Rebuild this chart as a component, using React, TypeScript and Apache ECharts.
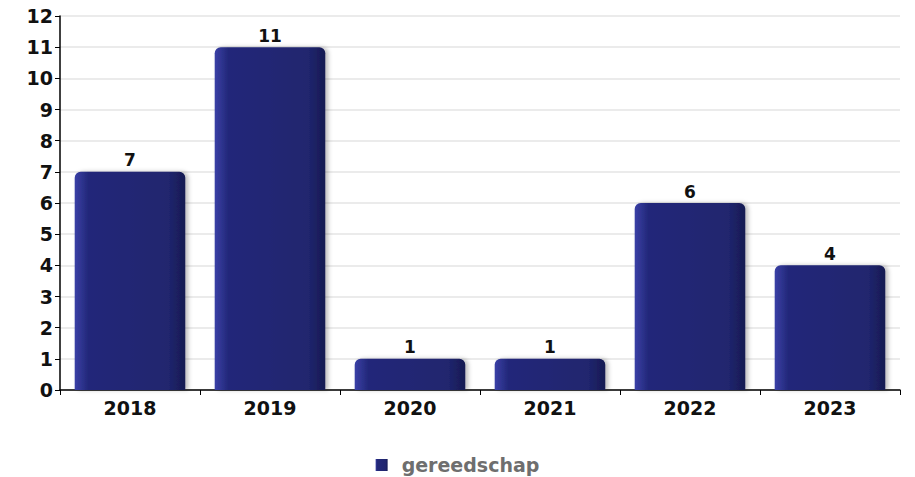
import React, { useEffect, useRef } from "react";
import * as echarts from "echarts";

const categories = ["2018", "2019", "2020", "2021", "2022", "2023"];
const values = [7, 11, 1, 1, 6, 4];
const seriesName = "gereedschap";

export default function App() {
  const ref = useRef<HTMLDivElement>(null);
  useEffect(() => {
    const chart = echarts.init(ref.current!, null, { renderer: "svg" });
    const font = "DejaVu Sans";
    chart.setOption({
      animation: false,
      backgroundColor: "#ffffff",
      grid: { left: 60, right: 15, top: 16, bottom: 87, containLabel: false },
      legend: {
        top: 454,
        left: "center",
        icon: "rect",
        itemWidth: 12,
        itemHeight: 12,
        itemGap: 10,
        padding: 0,
        textStyle: {
          fontFamily: font,
          fontWeight: "bold",
          fontSize: 19,
          color: "#6e6e6e",
          lineHeight: 22,
          padding: [0, 0, 0, 9],
        },
        data: [seriesName],
      },
      xAxis: {
        type: "category",
        data: categories,
        axisLine: { lineStyle: { color: "#000000", width: 1.5 } },
        axisTick: { show: true, length: 5, lineStyle: { color: "#000000" } },
        axisLabel: { fontFamily: font, fontWeight: "bold", fontSize: 19, color: "#111111", margin: 8 },
      },
      yAxis: {
        type: "value",
        min: 0,
        max: 12,
        interval: 1,
        axisLine: { show: true, lineStyle: { color: "#000000", width: 1.5 } },
        axisTick: { show: true, length: 5, lineStyle: { color: "#000000" } },
        axisLabel: { fontFamily: font, fontWeight: "bold", fontSize: 19, color: "#111111", margin: 7 },
        splitLine: { lineStyle: { color: "#e4e4e4", width: 1.5 } },
      },
      series: [
        {
          name: seriesName,
          type: "bar",
          data: values,
          barCategoryGap: "21%",
          itemStyle: {
            color: new echarts.graphic.LinearGradient(0, 0, 1, 0, [
              { offset: 0, color: "#3a40a6" },
              { offset: 0.12, color: "#23287a" },
              { offset: 0.85, color: "#20256e" },
              { offset: 1, color: "#161a52" },
            ]),
            borderRadius: [6, 6, 0, 0],
            shadowColor: "rgba(0,0,0,0.25)",
            shadowBlur: 4,
            shadowOffsetX: 3,
            shadowOffsetY: 0,
          },
          label: {
            show: true,
            position: "top",
            distance: 3,
            fontFamily: font,
            fontWeight: "bold",
            fontSize: 17,
            color: "#111111",
          },
        },
      ],
    });
    return () => chart.dispose();
  }, []);
  return (
    <div
      ref={ref}
      style={{ position: "fixed", left: 0, top: 0, width: 915, height: 477 }}
    />
  );
}
